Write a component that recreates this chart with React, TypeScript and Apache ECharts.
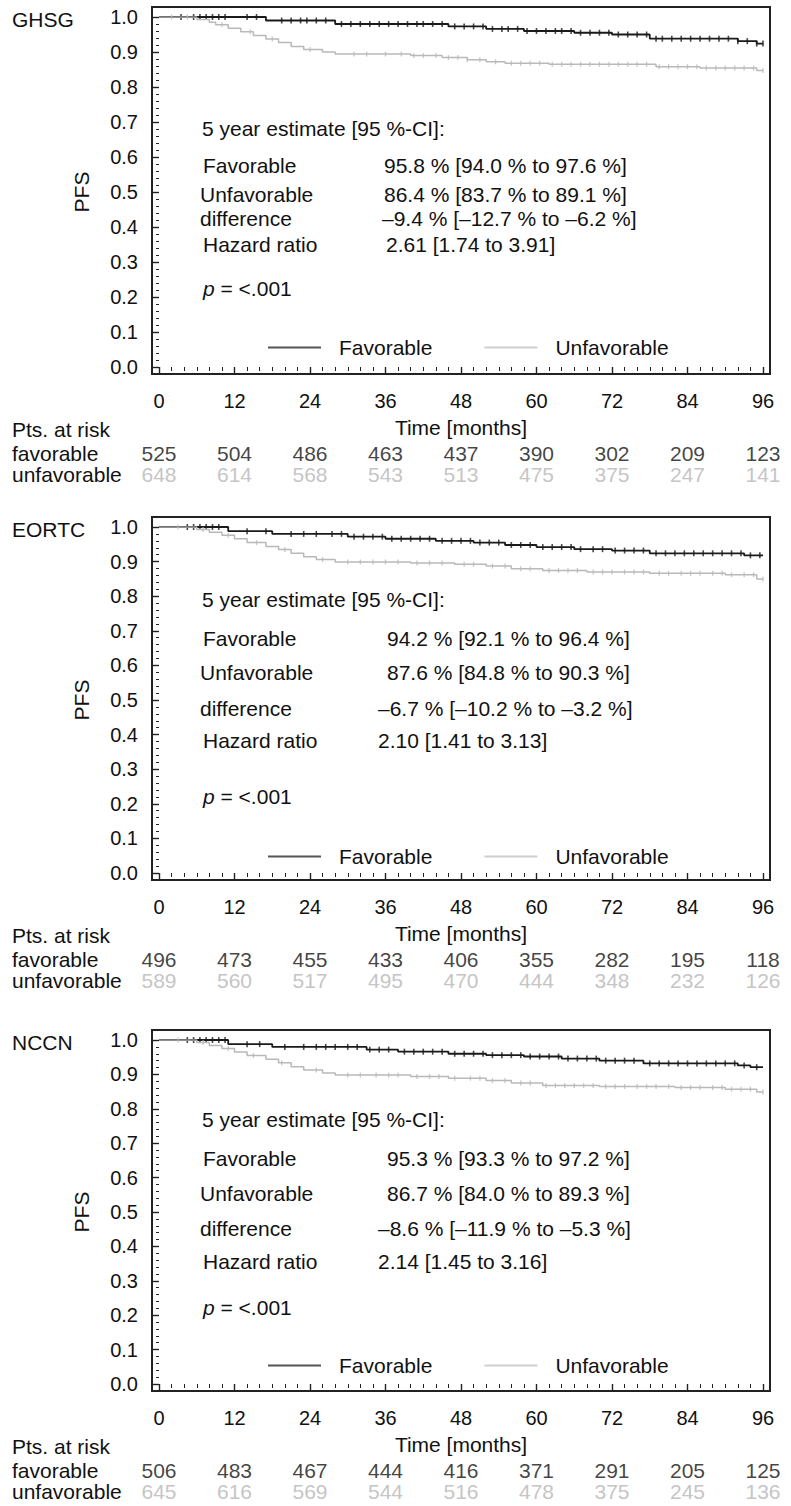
import React, { useEffect, useRef } from "react";
import * as echarts from "echarts";

const FONT = '"Liberation Sans", Arial, Helvetica, sans-serif';

// ---------- data ----------
const months = [0, 12, 24, 36, 48, 60, 72, 84, 96];
const yTicks = [0, 0.1, 0.2, 0.3, 0.4, 0.5, 0.6, 0.7, 0.8, 0.9, 1.0];
const riskRows = ["favorable", "unfavorable"];
const rowLabels = ["Favorable", "Unfavorable", "difference", "Hazard ratio"];
const headerText = "5 year estimate [95 %-CI]:";
const pText = "<.001";

const riskGHSGFav = [525, 504, 486, 463, 437, 390, 302, 209, 123];
const riskGHSGUnf = [648, 614, 568, 543, 513, 475, 375, 247, 141];
const riskEORTCFav = [496, 473, 455, 433, 406, 355, 282, 195, 118];
const riskEORTCUnf = [589, 560, 517, 495, 470, 444, 348, 232, 126];
const riskNCCNFav = [506, 483, 467, 444, 416, 371, 291, 205, 125];
const riskNCCNUnf = [645, 616, 569, 544, 516, 478, 375, 245, 136];

const statsGHSG = ["95.8 % [94.0 % to 97.6 %]", "86.4 % [83.7 % to 89.1 %]", "\u20139.4 % [\u201312.7 % to \u20136.2 %]", "2.61 [1.74 to 3.91]"];
const statsEORTC = ["94.2 % [92.1 % to 96.4 %]", "87.6 % [84.8 % to 90.3 %]", "\u20136.7 % [\u201310.2 % to \u20133.2 %]", "2.10 [1.41 to 3.13]"];
const statsNCCN = ["95.3 % [93.3 % to 97.2 %]", "86.7 % [84.0 % to 89.3 %]", "\u20138.6 % [\u201311.9 % to \u20135.3 %]", "2.14 [1.45 to 3.16]"];

// Kaplan-Meier step points [month, survival]
const ghsgFav = [[0, 1], [17, 0.99], [28, 0.98], [46, 0.973], [52, 0.966], [58, 0.96], [66, 0.955], [72, 0.95], [78, 0.938], [92, 0.931], [95, 0.924], [96, 0.924]];
const ghsgUnf = [[0, 1], [6, 0.993], [8, 0.985], [9, 0.978], [11, 0.968], [13, 0.958], [15, 0.947], [17, 0.937], [19, 0.927], [21, 0.916], [23, 0.907], [26, 0.9], [28, 0.894], [40, 0.89], [45, 0.884], [49, 0.878], [52, 0.872], [55, 0.868], [62, 0.865], [79, 0.858], [86, 0.854], [95, 0.847], [96, 0.847]];
const eortcFav = [[0, 1], [11, 0.988], [18, 0.98], [30, 0.972], [36, 0.966], [44, 0.96], [50, 0.955], [55, 0.948], [60, 0.942], [66, 0.936], [72, 0.932], [78, 0.924], [93, 0.918], [96, 0.918]];
const eortcUnf = [[0, 1], [6, 0.993], [8, 0.985], [10, 0.976], [12, 0.966], [14, 0.955], [17, 0.944], [19, 0.935], [21, 0.924], [23, 0.914], [25, 0.906], [28, 0.899], [40, 0.896], [47, 0.892], [52, 0.887], [56, 0.879], [61, 0.874], [68, 0.87], [78, 0.866], [90, 0.862], [95, 0.85], [96, 0.85]];
const nccnFav = [[0, 1], [11, 0.988], [18, 0.98], [33, 0.972], [38, 0.966], [46, 0.96], [52, 0.956], [58, 0.952], [64, 0.946], [70, 0.94], [77, 0.932], [92, 0.926], [94, 0.921], [96, 0.921]];
const nccnUnf = [[0, 1], [6, 0.993], [8, 0.984], [10, 0.975], [12, 0.965], [14, 0.955], [17, 0.944], [19, 0.934], [21, 0.922], [23, 0.913], [26, 0.904], [28, 0.898], [40, 0.894], [46, 0.889], [52, 0.882], [56, 0.875], [61, 0.868], [70, 0.865], [82, 0.862], [90, 0.857], [95, 0.849], [96, 0.849]];

// censoring times (months)
const ghsgFavCens = [3.5, 5.5, 6.5, 7.5, 8.5, 9.5, 10.5, 14, 15.5, 19.5, 21, 22.5, 23.5, 25, 26.5, 29, 30.5, 32, 33.5, 35, 36.5, 38, 39.5, 41, 42, 43.5, 45, 47, 48.5, 50, 51.5, 53, 54.5, 55.5, 57, 58.5, 60, 61.5, 63, 64, 65.5, 67, 68.5, 70, 71.5, 73, 74.5, 76, 77.5, 79, 80, 81.5, 83, 84.5, 86, 87.5, 89, 90.5, 92, 93.5, 95, 96];
const ghsgUnfCens = [2, 4.5, 10, 14.5, 18, 24, 31, 33, 36, 38.5, 40.5, 42, 44, 46, 47.5, 49, 51, 53.5, 56, 57.5, 59, 60.5, 62.5, 64, 65.5, 67, 68.5, 70, 71.5, 73, 74.5, 76, 77.5, 79.5, 81, 82.5, 84, 85.5, 87, 88.5, 90, 91.5, 93, 94.5, 96];
const eortcFavCens = [4.5, 5.5, 6.5, 7.5, 8.5, 9.5, 14, 17, 21, 23, 25, 27.5, 29, 31, 32.5, 34, 35.5, 37, 38.5, 40, 41.5, 43, 45, 46.5, 48, 49.5, 51, 52.5, 54, 56, 57.5, 59, 61, 62.5, 64, 65.5, 67, 69, 70.5, 72.5, 74, 75.5, 77, 79, 80.5, 82, 83.5, 85, 86.5, 88, 89.5, 91, 92.5, 94, 95.5];
const eortcUnfCens = [3, 7, 11, 15.5, 20, 26, 30, 32, 34, 36, 38, 41, 43, 45, 48.5, 50, 53, 55, 57.5, 59, 62, 63.5, 65, 66.5, 69, 70.5, 72, 74, 75.5, 77, 79.5, 81, 83, 84.5, 86, 88, 89.5, 91, 93, 94.5, 96];
const nccnFavCens = [4.5, 5.5, 6.5, 7.5, 8.5, 9.5, 10.5, 14, 16, 20, 23, 25, 26.5, 28, 30, 31.5, 33.5, 35, 36.5, 39, 40.5, 42, 43.5, 45, 47, 48.5, 50, 51.5, 53, 54.5, 56, 57.5, 59, 60.5, 62, 63.5, 65, 66.5, 68, 69.5, 71, 72.5, 74, 75.5, 78, 79.5, 81, 82.5, 84, 85.5, 87, 88.5, 90, 91.5, 93, 95];
const nccnUnfCens = [3, 7, 11, 15, 19.5, 25, 30, 32, 34.5, 36.5, 38, 41, 43, 44.5, 47, 49.5, 51, 53, 55, 57.5, 59, 61.5, 63, 64.5, 66, 67.5, 69, 71, 72.5, 74, 76, 77.5, 79, 81, 83, 84.5, 86, 88, 89.5, 91, 92.5, 94, 96];

// ---------- layout ----------
const GRID_LEFT = 159;
const GRID_W = 604;
const FRAME_LEFT = 152;
const FRAME_RIGHT = 770;

const PANELS = [
  { name: "GHSG", fav: ghsgFav, unf: ghsgUnf, favC: ghsgFavCens, unfC: ghsgUnfCens, rf: riskGHSGFav, ru: riskGHSGUnf, stats: statsGHSG, top: 17, height: 350, offs: [111, 148, 177, 201, 227, 271, 327], valX: [384, 384, 382, 386] },
  { name: "EORTC", fav: eortcFav, unf: eortcUnf, favC: eortcFavCens, unfC: eortcUnfCens, rf: riskEORTCFav, ru: riskEORTCUnf, stats: statsEORTC, top: 527, height: 346, offs: [72, 111, 145, 181, 213, 269, 326], valX: [387, 387, 378, 378] },
  { name: "NCCN", fav: nccnFav, unf: nccnUnf, favC: nccnFavCens, unfC: nccnUnfCens, rf: riskNCCNFav, ru: riskNCCNUnf, stats: statsNCCN, top: 1040, height: 344, offs: [79, 118, 153, 188, 221, 267, 322], valX: [387, 387, 378, 378] },
];

const BLACK = "#1a1a1a";
const GRAY = "#b9b9b9";

function stepValue(curve: number[][], t: number) {
  let v = curve[0][1];
  for (const p of curve) {
    if (p[0] <= t) v = p[1];
  }
  return v;
}

function buildOption() {
  const grid: any[] = [];
  const xAxis: any[] = [];
  const yAxis: any[] = [];
  const series: any[] = [];
  const legend: any[] = [];
  const graphic: any[] = [];

  PANELS.forEach((P, i) => {
    const frameTop = P.top - 10;
    const frameBottom = P.top + P.height + 7;
    const gMain = i * 2;
    const gRisk = i * 2 + 1;

    grid.push({ left: GRID_LEFT, top: P.top, width: GRID_W, height: P.height });
    grid.push({ left: GRID_LEFT, top: frameBottom + 69, width: GRID_W, height: 42 });

    xAxis.push({
      gridIndex: gMain,
      type: "value",
      min: 0,
      max: 96,
      interval: 12,
      offset: 7,
      axisLine: { show: false },
      axisTick: { show: true, length: 8, lineStyle: { color: "#222", width: 1.4 } },
      minorTick: { show: true, splitNumber: 6, length: 4, lineStyle: { color: "#222", width: 1 } },
      splitLine: { show: false },
      axisLabel: { margin: 17, fontSize: 20, color: "#111", fontFamily: FONT },
      name: "Time [months]",
      nameLocation: "middle",
      nameGap: 43,
      nameTextStyle: { fontSize: 21, color: "#111", fontFamily: FONT },
    });
    xAxis.push({ gridIndex: gRisk, type: "value", min: 0, max: 96, show: false });

    yAxis.push({
      gridIndex: gMain,
      type: "value",
      min: 0,
      max: 1,
      interval: 0.1,
      offset: 7,
      axisLine: { show: false },
      axisTick: { show: true, length: 6, lineStyle: { color: "#222", width: 1.4 } },
      minorTick: { show: true, splitNumber: 5, length: 3, lineStyle: { color: "#222", width: 1 } },
      splitLine: { show: false },
      axisLabel: {
        margin: 14,
        fontSize: 20,
        color: "#111",
        fontFamily: FONT,
        formatter: (v: number) => (yTicks.some((t) => Math.abs(t - v) < 1e-6) ? v.toFixed(1) : ""),
      },
      name: "PFS",
      nameLocation: "middle",
      nameGap: 60,
      nameTextStyle: { fontSize: 21, color: "#111", fontFamily: FONT },
    });
    yAxis.push({
      gridIndex: gRisk,
      type: "category",
      data: riskRows,
      inverse: true,
      axisLine: { show: false },
      axisTick: { show: false },
      axisLabel: { interval: 0, align: "left", margin: 147, fontSize: 21, color: "#111", fontFamily: FONT },
    });

    // KM curves
    series.push({
      name: "Favorable",
      type: "line",
      step: "end",
      xAxisIndex: gMain,
      yAxisIndex: gMain,
      data: P.fav,
      showSymbol: false,
      symbol: "none",
      lineStyle: { color: BLACK, width: 1.8 },
      itemStyle: { color: BLACK },
      z: 2,
      silent: true,
    });
    series.push({
      name: "Favorable",
      type: "scatter",
      xAxisIndex: gMain,
      yAxisIndex: gMain,
      data: P.favC.map((t) => [t, stepValue(P.fav, t)]),
      symbol: "rect",
      symbolSize: [1.6, 6],
      itemStyle: { color: BLACK },
      z: 2,
      silent: true,
    });
    series.push({
      name: "Unfavorable",
      type: "line",
      step: "end",
      xAxisIndex: gMain,
      yAxisIndex: gMain,
      data: P.unf,
      showSymbol: false,
      symbol: "none",
      lineStyle: { color: GRAY, width: 1.5 },
      itemStyle: { color: GRAY },
      z: 3,
      silent: true,
    });
    series.push({
      name: "Unfavorable",
      type: "scatter",
      xAxisIndex: gMain,
      yAxisIndex: gMain,
      data: P.unfC.map((t) => [t, stepValue(P.unf, t)]),
      symbol: "rect",
      symbolSize: [1.3, 5],
      itemStyle: { color: GRAY },
      z: 3,
      silent: true,
    });

    // numbers at risk
    series.push({
      type: "scatter",
      xAxisIndex: gRisk,
      yAxisIndex: gRisk,
      data: months.map((m, k) => [m, 0, P.rf[k]]),
      symbolSize: 1,
      itemStyle: { color: "rgba(0,0,0,0)" },
      label: { show: true, position: "inside", formatter: (p: any) => String(p.value[2]), fontSize: 21, color: "#111", fontFamily: FONT },
      silent: true,
    });
    series.push({
      type: "scatter",
      xAxisIndex: gRisk,
      yAxisIndex: gRisk,
      data: months.map((m, k) => [m, 1, P.ru[k]]),
      symbolSize: 1,
      itemStyle: { color: "rgba(0,0,0,0)" },
      label: { show: true, position: "inside", formatter: (p: any) => String(p.value[2]), fontSize: 21, color: "#b5b5b5", fontFamily: FONT },
      silent: true,
    });

    legend.push({
      top: P.top + P.offs[6] - 12,
      left: 263,
      icon: "rect",
      itemWidth: 53,
      itemHeight: 2,
      itemGap: 52,
      selectedMode: false,
      textStyle: { fontSize: 21, color: "#111", fontFamily: FONT, padding: [0, 0, 0, 13] },
      data: [
        { name: "Favorable", itemStyle: { color: "#555" } },
        { name: "Unfavorable", itemStyle: { color: "#cfcfcf" } },
      ],
    });

    // frame
    graphic.push({
      type: "rect",
      shape: { x: FRAME_LEFT, y: frameTop, width: FRAME_RIGHT - FRAME_LEFT, height: frameBottom - frameTop },
      style: { fill: "none", stroke: "#222", lineWidth: 2 },
      z: 100,
      silent: true,
    });
    // panel name
    graphic.push({
      type: "text",
      x: 12,
      y: P.top + 2,
      style: { text: P.name, fontSize: 21, fill: "#111", fontFamily: FONT, verticalAlign: "middle" },
      silent: true,
    });
    // pts at risk
    graphic.push({
      type: "text",
      x: 12,
      y: frameBottom + 55,
      style: { text: "Pts. at risk", fontSize: 21, fill: "#111", fontFamily: FONT, verticalAlign: "middle" },
      silent: true,
    });
    // stats block
    graphic.push({
      type: "text",
      x: 202,
      y: P.top + P.offs[0],
      style: { text: headerText, fontSize: 21, fill: "#111", fontFamily: FONT, verticalAlign: "middle" },
      silent: true,
    });
    rowLabels.forEach((lab, r) => {
      const lx = r === 1 || r === 2 ? 200 : 203;
      graphic.push({
        type: "text",
        x: lx,
        y: P.top + P.offs[r + 1],
        style: { text: lab, fontSize: 21, fill: "#111", fontFamily: FONT, verticalAlign: "middle" },
        silent: true,
      });
      graphic.push({
        type: "text",
        x: P.valX[r],
        y: P.top + P.offs[r + 1],
        style: { text: P.stats[r], fontSize: 21, fill: "#111", fontFamily: FONT, verticalAlign: "middle" },
        silent: true,
      });
    });
    graphic.push({
      type: "text",
      x: 203,
      y: P.top + P.offs[5],
      style: {
        text: "{i|p} = " + pText,
        fontSize: 21,
        fill: "#111",
        fontFamily: FONT,
        verticalAlign: "middle",
        rich: { i: { fontStyle: "italic", fontSize: 21, fontFamily: FONT, fill: "#111" } },
      },
      silent: true,
    });
  });

  return {
    animation: false,
    backgroundColor: "#ffffff",
    textStyle: { fontFamily: FONT },
    grid,
    xAxis,
    yAxis,
    series,
    legend,
    graphic,
  };
}

export default function App() {
  const ref = useRef<HTMLDivElement>(null);
  useEffect(() => {
    document.body.style.margin = "0";
    if (!ref.current) return;
    const chart = echarts.init(ref.current, null, { renderer: "svg" });
    chart.setOption(buildOption() as any);
    return () => chart.dispose();
  }, []);
  return <div ref={ref} style={{ width: 791, height: 1506 }} />;
}
